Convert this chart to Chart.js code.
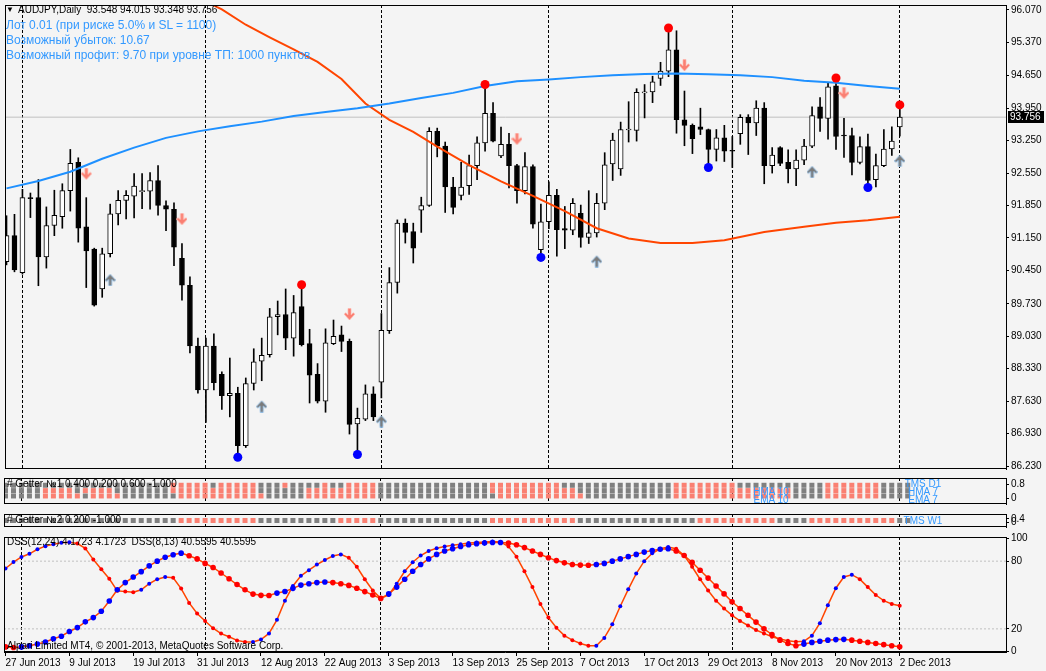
<!DOCTYPE html>
<html>
<head>
<meta charset="utf-8">
<title>AUDJPY,Daily</title>
<script src="https://cdn.jsdelivr.net/npm/chart.js@4.4.1/dist/chart.umd.min.js"></script>
<style>
  html, body { margin: 0; padding: 0; background: #f4f4f4; }
  #wrap { position: relative; width: 1046px; height: 671px; overflow: hidden; font-family: "Liberation Sans", Arial, sans-serif; }
  canvas { position: absolute; left: 0; }
  .t { position: absolute; white-space: nowrap; font-size: 10px; line-height: 12px; color: #000; }
  .info { font-size: 12px; line-height: 15px; color: #3399ff; }
  .lbl { color: #3399ff; text-align: center; width: 60px; }
</style>
</head>
<body>
<div id="wrap">
  <canvas id="main" width="1046" height="474" style="top:0"></canvas>
  <canvas id="getter1" width="1046" height="34" style="top:474px"></canvas>
  <canvas id="getter2" width="1046" height="21" style="top:510px"></canvas>
  <canvas id="dss" width="1046" height="138" style="top:533px"></canvas>

  <div class="t" style="left:6px;top:4px;font-size:8px">&#9660;</div>
  <div class="t" style="left:18px;top:4px">AUDJPY,Daily&nbsp;&nbsp;93.548 94.015 93.348 93.756</div>
  <div class="t info" style="left:6px;top:18px">Лот 0.01 (при риске 5.0% и SL = 1100)</div>
  <div class="t info" style="left:6px;top:33px">Возможный убыток: 10.67</div>
  <div class="t info" style="left:6px;top:48px">Возможный профит: 9.70 при уровне ТП: 1000 пунктов</div>

  <div class="t" style="left:7px;top:478px"># Getter №1 0.400 0.200 0.600 -1.000</div>
  <div class="t lbl" style="left:893px;top:478px">TMS D1</div>
  <div class="t lbl" style="left:893px;top:486px">HMA 7</div>
  <div class="t lbl" style="left:893px;top:494px">EMA 7</div>
  <div class="t lbl" style="left:741px;top:486px">HMA 10</div>
  <div class="t lbl" style="left:741px;top:494px">EMA 10</div>

  <div class="t" style="left:7px;top:514px"># Getter №2 0.200 -1.000</div>
  <div class="t lbl" style="left:893px;top:515px">TMS W1</div>

  <div class="t" style="left:7px;top:536px">DSS(12,24) 4.1723 4.1723&nbsp;&nbsp;DSS(8,13) 40.5595 40.5595</div>
  <div class="t" style="left:7px;top:640px">Alpari Limited MT4, © 2001-2013, MetaQuotes Software Corp.</div>
</div>

<script>
// eixo de datas: um rótulo a cada 8 barras
const tickLabels = ['27 Jun 2013', '9 Jul 2013', '19 Jul 2013', '31 Jul 2013', '12 Aug 2013', '22 Aug 2013',
  '3 Sep 2013', '13 Sep 2013', '25 Sep 2013', '7 Oct 2013', '17 Oct 2013', '29 Oct 2013', '8 Nov 2013',
  '20 Nov 2013', '2 Dec 2013'];
const monthStarts = [2, 25, 47, 68, 91, 112];
const priceTicks = [96.07, 95.37, 94.65, 93.95, 93.25, 92.55, 91.85, 91.15, 90.45, 89.73, 89.03, 88.33, 87.63, 86.93, 86.23];

// OHLC diário AUDJPY
const opens = [90.64, 91.20, 90.40, 92.02, 92.02, 90.74, 91.42, 91.61, 92.17, 92.78,
  91.39, 90.91, 90.05, 90.81, 91.67, 91.96, 92.05, 92.15, 92.16, 92.39,
  91.85, 91.77, 90.71, 90.13, 88.82, 87.87, 88.82, 88.21, 87.75, 87.80,
  86.67, 88.01, 88.49, 88.63, 89.45, 89.50, 88.99, 89.67, 88.87, 88.21,
  87.63, 88.87, 89.06, 88.92, 87.14, 87.24, 87.79, 88.04, 89.15, 90.19,
  91.47, 91.29, 91.75, 91.85, 93.45, 93.13, 92.25, 92.07, 92.28, 92.71,
  93.20, 93.84, 92.92, 93.17, 92.71, 92.17, 92.69, 90.90, 91.50, 92.07,
  91.35, 91.32, 91.68, 91.16, 91.26, 91.90, 92.75, 92.64, 93.48, 93.47,
  94.28, 94.30, 94.59, 94.75, 95.21, 93.70, 93.58, 93.55, 93.49, 93.06,
  93.31, 93.04, 93.40, 93.75, 93.63, 93.95, 92.71, 93.10, 92.78, 92.64,
  92.83, 93.13, 93.98, 93.73, 94.43, 93.37, 93.36, 92.78, 93.12, 92.41,
  92.71, 93.07, 93.548];
const highs = [91.63, 91.66, 92.20, 92.12, 92.41, 91.82, 92.18, 92.32, 93.06, 92.88,
  92.02, 90.93, 90.93, 91.88, 92.17, 92.17, 92.54, 92.54, 92.56, 92.71,
  91.95, 91.91, 91.03, 90.31, 88.99, 88.99, 89.08, 88.26, 88.56, 87.93,
  88.13, 88.76, 88.99, 89.63, 89.79, 90.05, 89.91, 90.09, 89.18, 88.44,
  89.19, 89.38, 89.25, 88.97, 87.48, 87.98, 87.94, 89.52, 90.51, 91.54,
  91.56, 91.47, 92.03, 93.53, 93.52, 93.22, 92.46, 92.78, 92.94, 93.33,
  94.43, 94.07, 93.54, 93.41, 92.74, 92.99, 92.73, 91.88, 92.36, 92.20,
  91.83, 92.00, 91.86, 92.17, 92.11, 92.99, 93.41, 93.65, 94.09, 94.37,
  94.46, 94.64, 94.94, 95.65, 95.62, 94.32, 93.61, 93.95, 93.50, 93.49,
  93.58, 93.34, 93.81, 93.81, 94.11, 94.07, 93.10, 93.12, 93.05, 93.05,
  93.28, 93.98, 94.18, 94.50, 94.55, 93.73, 93.52, 93.33, 93.39, 92.96,
  93.49, 93.55, 94.015];
const lows = [90.57, 90.42, 90.37, 91.59, 90.12, 90.50, 91.20, 91.36, 91.73, 91.06,
  90.08, 89.68, 89.87, 90.74, 91.43, 91.56, 91.58, 91.78, 91.77, 91.64,
  91.31, 90.55, 89.81, 88.67, 87.80, 87.17, 87.87, 87.45, 87.29, 86.46,
  86.63, 87.87, 88.07, 88.58, 89.06, 88.74, 88.60, 88.82, 87.59, 87.59,
  87.39, 88.85, 88.70, 86.92, 86.56, 87.21, 87.21, 87.70, 89.09, 89.96,
  91.04, 90.61, 91.27, 91.83, 92.90, 91.70, 91.67, 91.97, 92.09, 92.41,
  93.02, 93.22, 92.88, 92.23, 91.90, 92.10, 91.36, 90.81, 91.35, 90.76,
  90.92, 91.22, 90.95, 91.03, 91.17, 91.76, 92.39, 92.50, 93.22, 93.24,
  93.74, 94.07, 94.44, 94.63, 93.41, 93.14, 92.97, 93.38, 92.74, 92.81,
  92.80, 92.67, 93.17, 92.95, 93.36, 92.32, 92.55, 92.71, 92.34, 92.28,
  92.73, 93.10, 93.45, 93.28, 93.06, 92.89, 92.51, 92.75, 92.32, 92.25,
  92.69, 92.93, 93.348];
const closes = [91.20, 90.46, 92.02, 92.00, 90.74, 91.42, 91.64, 92.17, 92.76, 91.36,
  90.87, 89.70, 90.81, 91.67, 91.96, 92.07, 92.27, 92.17, 92.39, 91.85,
  91.77, 90.95, 90.13, 88.82, 87.87, 88.82, 88.03, 87.75, 87.80, 86.67,
  88.01, 88.48, 88.62, 89.45, 89.50, 88.99, 89.54, 88.85, 88.19, 87.63,
  88.89, 89.03, 88.92, 87.13, 87.26, 87.79, 87.29, 89.16, 90.19, 91.47,
  91.27, 90.93, 91.85, 93.45, 93.13, 92.25, 91.81, 92.25, 92.71, 93.20,
  93.84, 93.24, 93.17, 92.71, 92.17, 92.69, 91.45, 91.50, 92.07, 91.33,
  91.32, 91.90, 91.16, 91.26, 91.90, 92.73, 93.26, 93.49, 93.49, 94.29,
  94.29, 94.52, 94.75, 95.21, 93.70, 93.58, 93.29, 93.49, 93.06, 93.31,
  93.02, 93.02, 93.75, 93.63, 93.95, 92.71, 92.94, 92.76, 92.64, 92.83,
  93.13, 93.79, 93.73, 94.41, 93.34, 93.35, 92.78, 93.12, 92.39, 92.71,
  93.07, 93.24, 93.756];

// médias móveis: [barra, preço]
const blueMa = [[0, 92.22], [4, 92.38], [8, 92.58], [12, 92.86], [16, 93.10], [20, 93.31], [24, 93.45],
  [28, 93.56], [32, 93.66], [36, 93.78], [40, 93.87], [44, 93.95], [48, 94.05], [52, 94.17], [56, 94.28],
  [60, 94.43], [64, 94.53], [68, 94.57], [72, 94.62], [76, 94.66], [80, 94.69], [84, 94.70], [88, 94.68],
  [92, 94.66], [96, 94.62], [100, 94.54], [104, 94.50], [108, 94.43], [112, 94.37]];
const redMa = [[25, 96.25], [27, 96.08], [30, 95.75], [33, 95.48], [36, 95.22], [39, 94.95], [42, 94.58],
  [45, 94.05], [48, 93.70], [51, 93.44], [54, 93.12], [58, 92.72], [62, 92.37], [66, 92.06], [70, 91.73],
  [74, 91.36], [78, 91.14], [82, 91.04], [86, 91.04], [90, 91.10], [95, 91.28], [100, 91.39], [104, 91.48],
  [108, 91.53], [112, 91.61]];

// sinais
const topDots = [[37, 90.14], [60, 94.46], [83, 95.68], [104, 94.60], [112, 94.02]];
const bottomDots = [[29, 86.42], [44, 86.48], [67, 90.73], [88, 92.67], [108, 92.24]];
const sellArrows = [[10, 92.53], [22, 91.55], [43, 89.50], [64, 93.28], [85, 94.87], [105, 94.27]];
const buyArrows = [[13, 90.25], [32, 87.52], [47, 87.20], [74, 90.65], [101, 92.58], [112, 92.82]];

// Getter: 1 = salmão, 0 = cinza
const tmsD1 = '000000000000000000000111110111110001000010011110000000000000011111111100000000000000111111110000000000011111110000';
const hma7  = '000001111011110000000111111111110000001111111110000000000000011111111111000000000000111111111111111000011111110000';
const ema7  = '000001111101111000000011111111111000001111111110000000000000001111111111100000000000111111111111111000011111110000';
const tmsW1 = '000000000000000000000011111111110000000000111110000000000000011111111111000000000000000111111111100001111111111100';

// DSS
const dssFast = [73.5, 79.2, 83.7, 86.5, 90.5, 93.3, 95.0, 96.2, 96.7, 95.6,
  91.3, 81.4, 72.9, 64.4, 53.7, 53.0, 52.5, 54.6, 60.0, 64.0,
  66.0, 65.3, 55.7, 43.0, 33.6, 27.0, 20.6, 15.8, 13.0, 9.8,
  8.4, 8.4, 10.5, 16.0, 28.0, 45.0, 58.0, 67.0, 72.0, 77.0,
  81.0, 84.5, 86.0, 83.0, 75.0, 64.0, 54.0, 47.0, 50.0, 60.0,
  71.0, 79.0, 85.0, 89.0, 91.5, 93.0, 94.0, 95.0, 96.0, 96.5,
  97.0, 97.5, 97.0, 93.0, 84.0, 71.0, 57.0, 42.0, 30.0, 21.0,
  14.0, 10.0, 7.0, 5.0, 5.0, 12.0, 24.0, 40.0, 55.0, 69.0,
  80.0, 87.0, 91.0, 92.5, 91.0, 85.0, 75.0, 64.0, 54.0, 45.0,
  38.0, 32.0, 27.0, 23.0, 19.0, 16.0, 13.0, 11.0, 9.5, 8.5,
  9.0, 14.0, 25.0, 41.0, 56.0, 66.0, 68.0, 64.0, 57.0, 50.0,
  45.0, 42.0, 40.56];
const dssSlow = [4.0, 3.5, 4.0, 5.0, 6.5, 8.4, 11.3, 13.5, 17.7, 21.1,
  26.2, 30.0, 35.6, 44.7, 54.6, 61.0, 65.9, 70.7, 75.8, 80.0,
  83.4, 85.7, 87.1, 84.8, 82.0, 78.0, 74.4, 69.5, 64.4, 59.3,
  54.6, 50.8, 49.7, 49.6, 51.7, 53.1, 55.9, 58.8, 60.0, 61.0,
  61.5, 61.0, 60.0, 58.5, 56.0, 53.0, 50.0, 47.0, 51.0, 57.0,
  64.0, 71.0, 77.0, 82.0, 86.0, 89.0, 91.0, 93.0, 94.5, 95.5,
  96.0, 96.5, 96.5, 96.0, 94.5, 92.0, 89.0, 86.0, 83.0, 80.5,
  78.5, 77.0, 76.5, 76.4, 77.0, 78.0, 80.0, 82.0, 84.0, 86.0,
  88.0, 89.5, 90.5, 91.0, 89.0, 85.0, 79.0, 72.0, 65.0, 58.0,
  51.0, 44.0, 38.0, 32.0, 26.0, 20.0, 15.0, 10.0, 7.0, 5.0,
  6.5, 8.0, 9.0, 10.0, 10.5, 10.7, 10.0, 9.0, 8.0, 7.0,
  6.0, 5.0, 4.17];
const dssLevels = [80, 20];

const FONT = '"Liberation Sans", Arial, sans-serif';
const X_MIN = -0.1875, X_MAX = 125.3125;   // 8 px por barra
const SALMON = '#fa8072', GRAY = '#808080';

// setas no estilo MT4
function arrowImg(fill, edge, up) {
  const c = document.createElement('canvas');
  c.width = 11; c.height = 13;
  const g = c.getContext('2d');
  if (up) { g.translate(0, 13); g.scale(1, -1); }
  g.beginPath();
  g.moveTo(4, 0.5); g.lineTo(7, 0.5); g.lineTo(7, 7); g.lineTo(9.3, 4.7); g.lineTo(10.8, 6.2);
  g.lineTo(5.5, 12); g.lineTo(0.2, 6.2); g.lineTo(1.7, 4.7); g.lineTo(4, 7); g.closePath();
  g.fillStyle = fill; g.fill();
  g.strokeStyle = edge; g.lineWidth = 1; g.stroke();
  return c;
}
const sellImg = arrowImg('#fa7f72', 'rgba(255,180,170,0.7)', false);
const buyImg = arrowImg('#7a7a7a', 'rgba(140,190,235,0.8)', true);

const pts = arr => arr.map(([x, y]) => ({ x, y }));
const dirColors = vals => vals.map((v, i) => (i === 0 ? vals[1] >= v : v >= vals[i - 1]) ? '#0000ff' : '#ff0000');

const frame = {
  id: 'frame',
  afterDraw(chart) {
    const { ctx, chartArea: a } = chart;
    ctx.save();
    ctx.strokeStyle = '#000';
    ctx.lineWidth = 1;
    ctx.strokeRect(a.left + 0.5, a.top + 0.5, a.right - a.left, a.bottom - a.top - 1);
    ctx.restore();
  }
};

const priceTag = {
  id: 'priceTag',
  afterDraw(chart) {
    const last = closes[closes.length - 1];
    const y = Math.round(chart.scales.y.getPixelForValue(last));
    const ctx = chart.ctx;
    ctx.save();
    ctx.fillStyle = '#000';
    ctx.fillRect(1008, y - 6, 36, 12);
    ctx.fillStyle = '#fff';
    ctx.font = '10px ' + FONT;
    ctx.textBaseline = 'middle';
    ctx.fillText(last.toFixed(3), 1010, y + 0.5);
    ctx.restore();
  }
};

function noPad(a) {
  a.paddingTop = 0; a.paddingBottom = 0; a.paddingLeft = 0; a.paddingRight = 0;
}

function xAxes(withLabels) {
  return {
    x: {
      type: 'linear', position: 'bottom', min: X_MIN, max: X_MAX, offset: false, display: withLabels,
      afterBuildTicks: a => { a.ticks = tickLabels.map((t, k) => ({ value: k * 8 })); },
      afterFit: a => { a.height = withLabels ? 19 : 0; noPad(a); },
      ticks: { autoSkip: false, maxRotation: 0, align: 'start', padding: 1, color: '#000',
        font: { family: FONT, size: 10 }, callback: (v, k) => tickLabels[k] },
      grid: { drawOnChartArea: false, tickLength: 4, color: '#000', offset: false },
      border: { color: '#000' }
    },
    xm: {
      type: 'linear', position: 'top', min: X_MIN, max: X_MAX, offset: false,
      afterBuildTicks: a => { a.ticks = monthStarts.map(v => ({ value: v })); },
      afterFit: a => { a.height = 0; noPad(a); },
      ticks: { display: false },
      grid: { color: '#000', drawTicks: false, offset: false },
      border: { display: false, dash: [3, 2] }
    }
  };
}

function yAxis(min, max, ticks, fmt) {
  return {
    position: 'right', min, max,
    afterBuildTicks: a => { a.ticks = ticks.map(v => ({ value: v })); },
    afterFit: a => { a.width = 40; noPad(a); },
    ticks: { autoSkip: false, padding: 2, color: '#000', font: { family: FONT, size: 10 }, callback: fmt },
    grid: { drawOnChartArea: false, tickLength: 3, color: '#000' },
    border: { color: '#000' }
  };
}

function baseOptions(scales, padTop, padBottom) {
  return {
    responsive: false,
    animation: false,
    devicePixelRatio: 1,
    layout: { padding: { left: 2, right: 0, top: padTop, bottom: padBottom } },
    plugins: { legend: { display: false }, tooltip: { enabled: false } },
    elements: { line: { tension: 0 } },
    scales
  };
}

// gráfico principal
const idx = opens.map((_, i) => i);
const last = closes[closes.length - 1];

new Chart(document.getElementById('main'), {
  type: 'line',
  data: {
    datasets: [
      { data: pts(topDots), showLine: false, pointRadius: 4.5, pointBackgroundColor: '#ff0000', pointBorderWidth: 0, order: 0 },
      { data: pts(bottomDots), showLine: false, pointRadius: 4.5, pointBackgroundColor: '#0000ff', pointBorderWidth: 0, order: 0 },
      { data: pts(sellArrows), showLine: false, pointStyle: sellImg, order: 0 },
      { data: pts(buyArrows), showLine: false, pointStyle: buyImg, order: 0 },
      { data: pts(blueMa), borderColor: '#1e90ff', borderWidth: 2, pointRadius: 0, order: 1 },
      { data: pts(redMa), borderColor: '#ff4500', borderWidth: 2, pointRadius: 0, order: 1 },
      {
        type: 'bar', data: idx.map(i => ({ x: i, y: [opens[i], closes[i]] })),
        barThickness: 5, grouped: false, minBarLength: 1, clip: 0,
        backgroundColor: idx.map(i => closes[i] >= opens[i] ? '#ffffff' : '#000000'),
        borderColor: '#000', borderWidth: 1, borderSkipped: false, order: 2
      },
      {
        type: 'bar', data: idx.map(i => ({ x: i, y: [lows[i], highs[i]] })),
        barThickness: 1, grouped: false, clip: 0, backgroundColor: '#000', borderWidth: 0, order: 3
      },
      { data: [{ x: X_MIN, y: last }, { x: X_MAX, y: last }], borderColor: '#c0c0c0', borderWidth: 1, pointRadius: 0, order: 4 }
    ]
  },
  options: baseOptions(Object.assign(xAxes(false), {
    y: yAxis(86.166, 96.176, priceTicks, v => v.toFixed(3))
  }), 1, 2),
  plugins: [frame, priceTag]
});

// painéis Getter
function squares(row, y) {
  return {
    data: row.split('').map((c, i) => ({ x: i, y })),
    showLine: false, pointStyle: 'rect', pointRadius: 3.54, pointBorderWidth: 0,
    pointBackgroundColor: row.split('').map(c => c === '1' ? SALMON : GRAY)
  };
}
const fmt1 = v => v === 0 ? '0' : v.toFixed(1);

new Chart(document.getElementById('getter1'), {
  type: 'line',
  data: { datasets: [squares(tmsD1, 0.73), squares(hma7, 0.436), squares(ema7, 0.142)] },
  options: baseOptions(Object.assign(xAxes(false), { y: yAxis(-0.3, 1.13, [0.8, 0], fmt1) }), 0, 0),
  plugins: [frame]
});

new Chart(document.getElementById('getter2'), {
  type: 'line',
  data: { datasets: [squares(tmsW1, 0.2)] },
  options: baseOptions(Object.assign(xAxes(false), { y: yAxis(-0.55, 0.95, [0.4, 0], fmt1) }), 0, 0),
  plugins: [frame]
});

// DSS
const dssSets = [
  { data: dssSlow.map((y, x) => ({ x, y })), borderColor: '#ff4500', borderWidth: 1.5,
    pointRadius: 2.8, pointBackgroundColor: dirColors(dssSlow), pointBorderWidth: 0, order: 0 },
  { data: dssFast.map((y, x) => ({ x, y })), borderColor: '#ff4500', borderWidth: 1.5,
    pointRadius: 2, pointBackgroundColor: dirColors(dssFast), pointBorderWidth: 0, order: 1 }
];
dssLevels.forEach(l => dssSets.push({
  data: [{ x: X_MIN, y: l }, { x: X_MAX, y: l }], borderColor: '#c0c0c0', borderWidth: 1,
  borderDash: [2, 2], pointRadius: 0, order: 5
}));

new Chart(document.getElementById('dss'), {
  type: 'line',
  data: { datasets: dssSets },
  options: baseOptions(Object.assign(xAxes(true), { y: yAxis(-0.5, 101.4, [100, 80, 20, 0], v => String(v)) }), 0, 0),
  plugins: [frame]
});
</script>
</body>
</html>
